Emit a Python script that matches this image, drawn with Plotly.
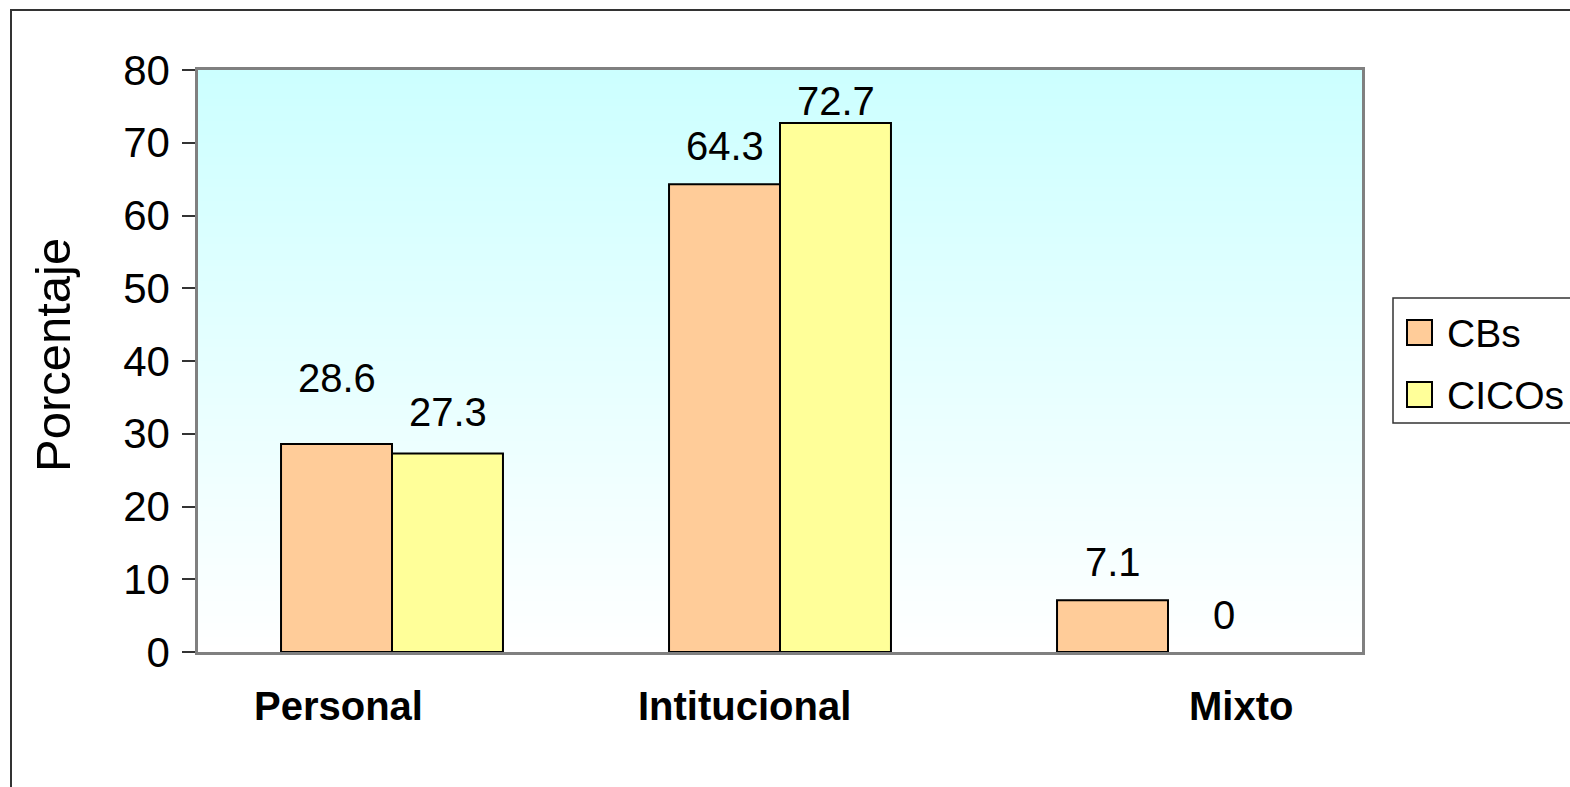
import plotly.graph_objects as go

# ---- data ----
categories = ["Personal", "Intitucional", "Mixto"]
series_names = ["CBs", "CICOs"]
cbs = [28.6, 64.3, 7.1]
cicos = [27.3, 72.7, 0]
colors = ["#FFCC99", "#FFFF99"]
y_ticks = [0, 10, 20, 30, 40, 50, 60, 70, 80]

# ---- layout geometry (page pixels) ----
W, H = 1570, 787
L, R, T, B = 198, 1362, 70, 652
PW, PH = R - L, B - T
FONT = "Liberation Sans, Arial, sans-serif"


def px(x):
    return (x - L) / PW


def py(y):
    return (B - y) / PH


fig = go.Figure()
for name, vals, col in zip(series_names, [cbs, cicos], colors):
    fig.add_trace(go.Bar(
        name=name, x=categories, y=vals,
        marker=dict(color=col,
                    line=dict(color="black", width=[2 if v > 0 else 0 for v in vals])),
        showlegend=False, hoverinfo="x+y+name",
    ))

shapes = []
# gradient background (cyan top -> white bottom)
N = 80
top = (204, 255, 255)
for i in range(N):
    f = (i + 0.5) / N  # 0 bottom -> 1 top
    c = tuple(round(255 + (t - 255) * f) for t in top)
    shapes.append(dict(type="rect", xref="x domain", yref="y domain",
                       x0=0, x1=1, y0=i / N, y1=(i + 1) / N + 0.002,
                       fillcolor="rgb(%d,%d,%d)" % c, line=dict(width=0),
                       layer="below"))
# outer chart border (right and bottom edges lie outside the page)
shapes.append(dict(type="rect", xref="paper", yref="paper",
                   x0=px(11), x1=px(1700), y0=py(900), y1=py(10),
                   line=dict(color="#333333", width=2), fillcolor="rgba(0,0,0,0)"))
# legend box (right edge outside the page)
shapes.append(dict(type="rect", xref="paper", yref="paper",
                   x0=px(1393), x1=px(1700), y0=py(423), y1=py(298),
                   line=dict(color="#333333", width=1.5), fillcolor="white"))
legend_rows = [(320, 345), (382, 407)]
annotations = []
for (y0, y1), col, name in zip(legend_rows, colors, series_names):
    shapes.append(dict(type="rect", xref="paper", yref="paper",
                       x0=px(1407), x1=px(1432), y0=py(y1), y1=py(y0),
                       line=dict(color="black", width=2), fillcolor=col))
    annotations.append(dict(xref="paper", yref="paper", x=px(1445), y=py((y0 + y1) / 2 + 1),
                            xanchor="left", yanchor="middle", showarrow=False,
                            text=name, font=dict(family=FONT, size=39, color="black")))

# data labels
offsets = [-55.5, 55.5]
label_yshift = [[66, 41], [38, 22], [38, 37]]
for si, vals in enumerate([cbs, cicos]):
    for ci, v in enumerate(vals):
        annotations.append(dict(x=categories[ci], y=v, xref="x", yref="y",
                                xshift=offsets[si], yshift=label_yshift[ci][si],
                                text=f"{v:g}", showarrow=False,
                                xanchor="center", yanchor="middle",
                                font=dict(family=FONT, size=40, color="black")))

# category labels (manually placed in original)
cat_xshift = [-54, -36, 73]
for ci, c in enumerate(categories):
    annotations.append(dict(x=c, xref="x", yref="paper", y=py(706),
                            xshift=cat_xshift[ci], text="<b>%s</b>" % c,
                            showarrow=False, xanchor="center", yanchor="middle",
                            font=dict(family=FONT, size=40, color="black")))

# y-axis title
annotations.append(dict(xref="paper", yref="paper", x=px(53), y=py(355),
                        text="Porcentaje", textangle=-90, showarrow=False,
                        xanchor="center", yanchor="middle",
                        font=dict(family=FONT, size=49, color="black")))

fig.update_layout(
    width=W, height=H,
    margin=dict(l=L, r=W - R, t=T, b=H - B, pad=0),
    paper_bgcolor="white", plot_bgcolor="white",
    barmode="group", bargap=0.428, bargroupgap=0,
    showlegend=False,
    shapes=shapes, annotations=annotations,
    font=dict(family=FONT, color="black"),
    xaxis=dict(type="category", range=[-0.5, 2.5], showticklabels=False,
               ticks="", showline=True, mirror=True, linecolor="#808080",
               linewidth=2.5, showgrid=False, zeroline=False),
    yaxis=dict(range=[0, 80], tickvals=y_ticks, ticks="outside", ticklen=13,
               tickwidth=1.5, tickcolor="#333333", showline=True, mirror=True,
               linecolor="#808080", linewidth=2.5, showgrid=False, zeroline=False,
               tickfont=dict(family=FONT, size=42, color="black"),
               ticklabelstandoff=4),
)

fig.write_html(
    "out.html",
    config={"displayModeBar": False},
    post_script="document.body.style.margin='0';document.body.style.overflow='hidden';",
)
